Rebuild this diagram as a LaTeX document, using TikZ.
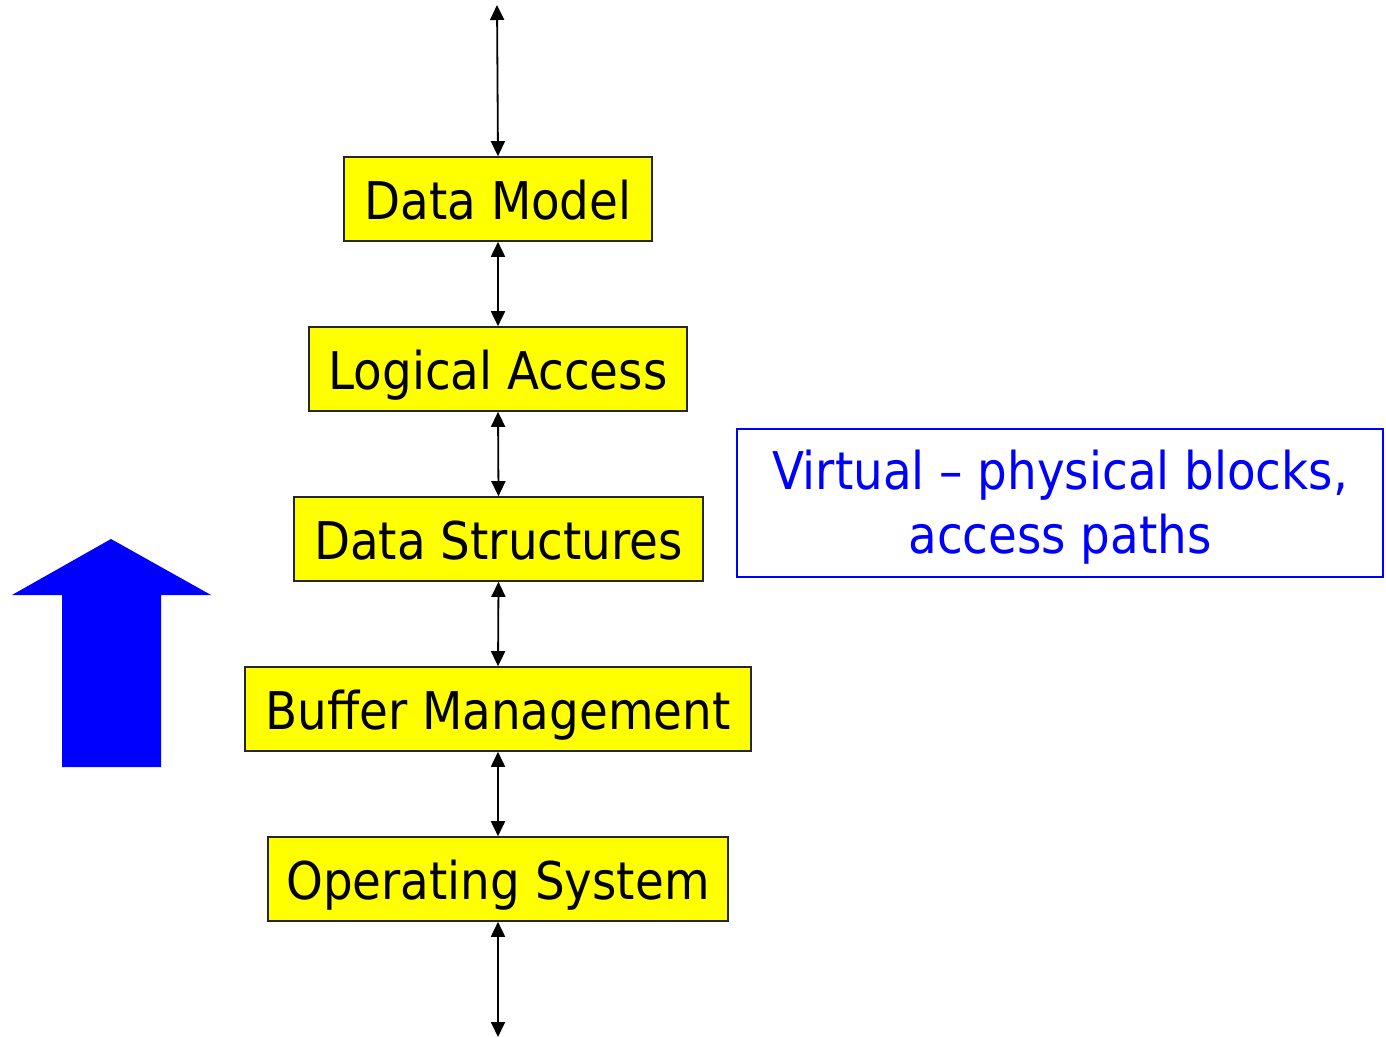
\documentclass[tikz,border=0pt]{standalone}
\usepackage{fontspec}
\setmainfont{DejaVu Sans Condensed}
\usetikzlibrary{arrows.meta}
\definecolor{boxyellow}{RGB}{255,255,0}
\definecolor{pureblue}{RGB}{0,0,255}
\tikzset{
  layer/.style={draw=black!85, line width=1.6pt, fill=boxyellow, minimum height=84pt,
    inner sep=0pt, text height=41pt, text depth=0pt,
    font=\fontsize{52}{62}\selectfont, text=black},
  link/.style={line width=1.8pt, {Triangle[width=14pt,length=15pt]}-{Triangle[width=14pt,length=15pt]}},
  notebox/.style={draw=pureblue, line width=1.6pt, inner sep=0pt,
    minimum width=646pt, minimum height=148pt},
  notetext/.style={text=pureblue, align=center, inner sep=0pt,
    font=\fontsize{52}{64}\selectfont}
}
\begin{document}
\begin{tikzpicture}[x=1pt,y=-1pt]
  \useasboundingbox (0,0) rectangle (1386,1038);
  % layer stack
  \node[layer, minimum width=308pt] (dm) at (498,199) {Data Model};
  \node[layer, minimum width=378pt] (la) at (498,369) {Logical Access};
  \node[layer, minimum width=409pt] (ds) at (498.5,539) {Data Structures};
  \node[layer, minimum width=506pt] (bm) at (498,709) {Buffer Management};
  \node[layer, minimum width=460pt] (os) at (498,879) {Operating System};
  \coordinate (top) at (497,5);
  \coordinate (bottom) at (498,1037);
  \draw[link] (top) -- (dm.north);
  \draw[link] (dm.south) -- (la.north);
  \draw[link] (la.south) -- (ds.north);
  \draw[link] (ds.south) -- (bm.north);
  \draw[link] (bm.south) -- (os.north);
  \draw[link] (os.south) -- (bottom);
  % side note
  \node[notebox] (vp) at (1060,503) {};
  \node[notetext] (vptext) at (1060,507) {Virtual -- physical blocks,\\access paths};
  % big upward arrow
  \fill[pureblue] (62,767) -- (62,595) -- (12,595) -- (111,539) -- (211,595)
    -- (161,595) -- (161,767) -- cycle;
\end{tikzpicture}
\end{document}
